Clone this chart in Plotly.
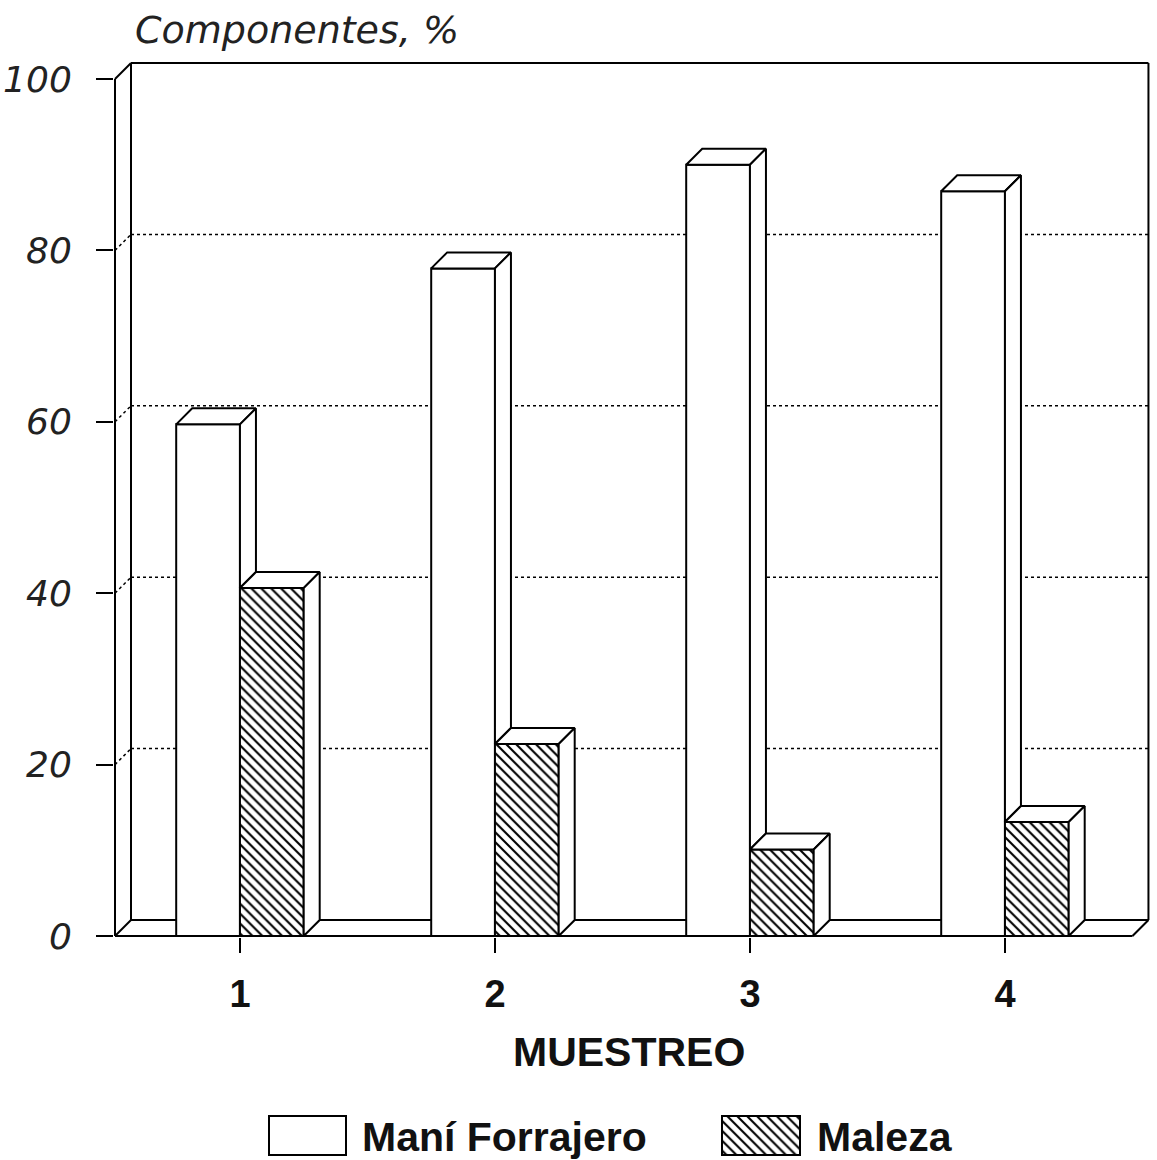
import plotly.graph_objects as go

# ---------------- data ----------------
categories = [1, 2, 3, 4]
x_tick_labels = ["1", "2", "3", "4"]
mani = [59.7, 77.9, 90.0, 86.9]
maleza = [40.6, 22.4, 10.1, 13.3]
y_ticks = [0, 20, 40, 60, 80, 100]
y_tick_labels = ["0", "20", "40", "60", "80", "100"]
series_names = ["Maní Forrajero", "Maleza"]
y_title = "Componentes, %"
x_title = "MUESTREO"

# ---------------- geometry ----------------
W, H = 1157, 1160
PXX, PXY = 255.0, 8.57          # pixels per data unit
XW, XR = 0.51, 4.5              # front wall left / front floor right
DX, DY = 16 / PXX, 16 / PXY     # 3-D depth offset in data units
BAR_W = 0.25
LINE = "black"

x_range = [XW - 1 / PXX, XW - 1 / PXX + (1152 - 114) / PXX]
y_range = [-1 / PXY, -1 / PXY + (937 - 55) / PXY]

ITAL = dict(family="DejaVu Sans", style="italic", weight=200, color="#222")
BOLD = dict(family="Liberation Sans", weight="bold", color="#111")

fig = go.Figure()

# front faces (bars)
fig.add_trace(go.Bar(
    x=categories, y=mani, width=BAR_W, offset=-BAR_W, name=series_names[0],
    marker=dict(color="white", line=dict(color=LINE, width=2)),
    showlegend=False, hoverinfo="skip"))
fig.add_trace(go.Bar(
    x=categories, y=maleza, width=BAR_W, offset=0, name=series_names[1],
    marker=dict(color="white", line=dict(color=LINE, width=2),
                pattern=dict(shape="\\", fgcolor="black", bgcolor="white",
                             size=7, solidity=0.3)),
    showlegend=False, hoverinfo="skip"))


def add_face(xs, ys):
    fig.add_trace(go.Scatter(
        x=xs, y=ys, mode="lines", fill="toself", fillcolor="white",
        line=dict(color=LINE, width=2), showlegend=False, hoverinfo="skip"))


# 3-D top and side faces
for c, vm, vz in zip(categories, mani, maleza):
    # Maní bar
    x0, x1 = c - BAR_W, c
    add_face([x0, x1, x1 + DX, x0 + DX, x0], [vm, vm, vm + DY, vm + DY, vm])
    lo = min(vz, vm)
    add_face([x1, x1 + DX, x1 + DX, x1, x1], [lo, lo + DY, vm + DY, vm, lo])
    # Maleza bar
    x0, x1 = c, c + BAR_W
    add_face([x0, x1, x1 + DX, x0 + DX, x0], [vz, vz, vz + DY, vz + DY, vz])
    add_face([x1, x1 + DX, x1 + DX, x1, x1], [0, DY, vz + DY, vz, 0])

# ---------------- walls (below traces) ----------------
shapes = []


def seg(x0, y0, x1, y1, dash="solid", width=2):
    shapes.append(dict(type="line", xref="x", yref="y", x0=x0, y0=y0, x1=x1, y1=y1,
                       layer="below", line=dict(color=LINE, width=width, dash=dash)))


ymax = y_ticks[-1]
# back wall frame
seg(XW + DX, DY, XW + DX, ymax + DY)
seg(XW + DX, ymax + DY, XR + DX, ymax + DY)
seg(XR + DX, DY, XR + DX, ymax + DY)
seg(XW + DX, DY, XR + DX, DY)
# left wall
seg(XW, 0, XW, ymax)
seg(XW, ymax, XW + DX, ymax + DY)
seg(XW, 0, XW + DX, DY)
# front floor
seg(XW, 0, XR, 0)
seg(XR, 0, XR + DX, DY)
# dotted grid on back wall + connectors on left wall
for v in y_ticks[1:-1]:
    seg(XW + DX, v + DY, XR + DX, v + DY, dash="dot", width=1.5)
    seg(XW, v, XW + DX, v + DY, dash="dot", width=1.5)

# ---------------- legend swatches (own small axes) ----------------
fig.add_trace(go.Bar(
    x=[307.5], y=[1], width=[77], xaxis="x2", yaxis="y2",
    marker=dict(color="white", line=dict(color=LINE, width=2)),
    showlegend=False, hoverinfo="skip"))
fig.add_trace(go.Bar(
    x=[761], y=[1], width=[78], xaxis="x2", yaxis="y2",
    marker=dict(color="white", line=dict(color=LINE, width=2),
                pattern=dict(shape="\\", fgcolor="black", bgcolor="white",
                             size=7, solidity=0.3)),
    showlegend=False, hoverinfo="skip"))

annotations = [
    dict(text=y_title, xref="paper", yref="paper", x=133 / W, y=1 - 30 / H,
         xanchor="left", yanchor="middle", showarrow=False,
         font=dict(ITAL, size=38)),
    dict(text=x_title, xref="paper", yref="paper", x=629 / W, y=1 - 1052 / H,
         xanchor="center", yanchor="middle", showarrow=False,
         font=dict(BOLD, size=41)),
    dict(text=series_names[0], xref="paper", yref="paper", x=360 / W, y=1 - 1137 / H,
         xanchor="left", yanchor="middle", showarrow=False,
         font=dict(BOLD, size=41)),
    dict(text=series_names[1], xref="paper", yref="paper", x=815 / W, y=1 - 1137 / H,
         xanchor="left", yanchor="middle", showarrow=False,
         font=dict(BOLD, size=41)),
]

fig.update_layout(
    template="none",
    width=W, height=H,
    margin=dict(l=0, r=0, t=0, b=0),
    paper_bgcolor="white", plot_bgcolor="rgba(0,0,0,0)",
    barmode="overlay",
    showlegend=False,
    shapes=shapes,
    annotations=annotations,
    xaxis=dict(domain=[114 / W, 1152 / W], range=x_range, automargin=False,
               tickvals=categories, ticktext=x_tick_labels,
               ticks="outside", ticklen=15, tickwidth=2, tickcolor=LINE,
               showgrid=False, zeroline=False, showline=False,
               ticklabelstandoff=8,
               tickfont=dict(BOLD, size=38)),
    yaxis=dict(domain=[(H - 937) / H, (H - 55) / H], range=y_range, automargin=False,
               tickvals=y_ticks, ticktext=y_tick_labels,
               ticks="outside", ticklen=17, tickwidth=2, tickcolor=LINE,
               showgrid=False, zeroline=False, showline=False,
               ticklabelstandoff=17,
               tickfont=dict(ITAL, size=36)),
    xaxis2=dict(domain=[250 / W, 820 / W], range=[250, 820], anchor="y2",
                visible=False, automargin=False),
    yaxis2=dict(domain=[(H - 1157) / H, (H - 1114) / H], range=[-0.05, 1.05], anchor="x2",
                visible=False, automargin=False),
)

fig.write_html("out.html")
